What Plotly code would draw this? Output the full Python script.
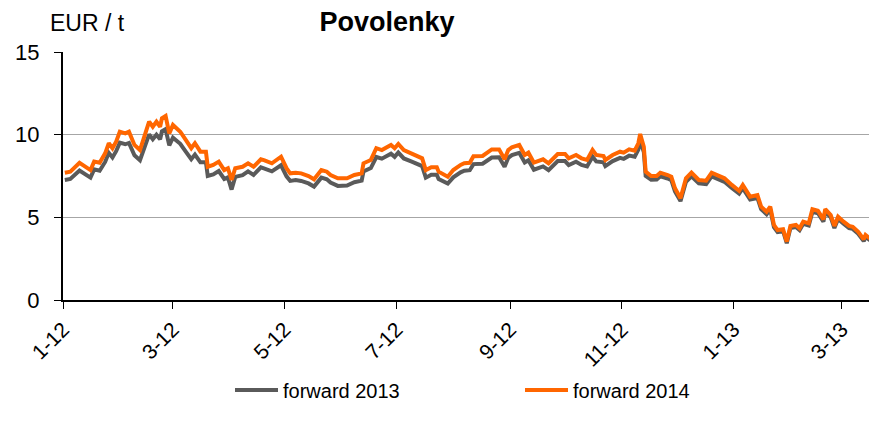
import plotly.graph_objects as go

# daily-ish readings of the EUA forward prices (EUR / t)
dates = [
    "2012-01-02", "2012-01-05", "2012-01-10", "2012-01-16", "2012-01-18", "2012-01-21",
    "2012-01-24", "2012-01-26", "2012-01-28", "2012-01-30", "2012-02-01", "2012-02-04",
    "2012-02-06", "2012-02-09", "2012-02-12", "2012-02-15", "2012-02-17", "2012-02-19",
    "2012-02-21", "2012-02-23", "2012-02-24", "2012-02-26", "2012-02-28", "2012-03-01",
    "2012-03-02", "2012-03-05", "2012-03-08", "2012-03-11", "2012-03-13", "2012-03-16",
    "2012-03-19", "2012-03-20", "2012-03-23", "2012-03-26", "2012-03-29", "2012-03-31",
    "2012-04-02", "2012-04-04", "2012-04-08", "2012-04-11", "2012-04-14", "2012-04-18",
    "2012-04-20", "2012-04-24", "2012-04-29", "2012-05-02", "2012-05-04", "2012-05-07",
    "2012-05-10", "2012-05-14", "2012-05-17", "2012-05-21", "2012-05-24", "2012-05-26",
    "2012-05-30", "2012-06-04", "2012-06-08", "2012-06-12", "2012-06-13", "2012-06-17",
    "2012-06-20", "2012-06-23", "2012-06-28", "2012-06-30", "2012-07-02", "2012-07-05",
    "2012-07-09", "2012-07-13", "2012-07-15", "2012-07-17", "2012-07-20", "2012-07-23",
    "2012-07-24", "2012-07-29", "2012-08-01", "2012-08-05", "2012-08-07", "2012-08-10",
    "2012-08-12", "2012-08-17", "2012-08-22", "2012-08-26", "2012-08-29", "2012-08-31",
    "2012-09-02", "2012-09-06", "2012-09-09", "2012-09-11", "2012-09-14", "2012-09-19",
    "2012-09-22", "2012-09-27", "2012-10-01", "2012-10-03", "2012-10-07", "2012-10-10",
    "2012-10-13", "2012-10-16", "2012-10-18", "2012-10-22", "2012-10-23", "2012-10-27",
    "2012-10-31", "2012-11-02", "2012-11-05", "2012-11-08", "2012-11-10", "2012-11-11",
    "2012-11-13", "2012-11-14", "2012-11-17", "2012-11-20", "2012-11-22", "2012-11-26",
    "2012-11-28", "2012-11-30", "2012-12-03", "2012-12-06", "2012-12-09", "2012-12-13",
    "2012-12-17", "2012-12-20", "2012-12-23", "2012-12-27", "2012-12-31", "2013-01-04",
    "2013-01-06", "2013-01-10", "2013-01-14", "2013-01-16", "2013-01-19", "2013-01-21",
    "2013-01-23", "2013-01-25", "2013-01-28", "2013-01-30", "2013-02-01", "2013-02-04",
    "2013-02-06", "2013-02-08", "2013-02-11", "2013-02-13", "2013-02-16", "2013-02-19",
    "2013-02-20", "2013-02-23", "2013-02-25", "2013-02-27", "2013-03-02", "2013-03-05",
    "2013-03-07", "2013-03-10", "2013-03-13", "2013-03-14", "2013-03-18", "2013-03-20",
]

forward_2013 = [
    7.26, 7.32, 7.83, 7.40, 7.90, 7.82, 8.35, 8.90, 8.62, 9.00, 9.52, 9.42,
    9.50, 8.75, 8.45, 9.48, 10.02, 9.72, 10.00, 9.72, 10.20, 10.33, 9.35, 9.82,
    9.72, 9.45, 8.98, 8.52, 8.80, 8.33, 8.33, 7.50, 7.60, 7.80, 7.32, 7.42,
    6.68, 7.45, 7.55, 7.78, 7.57, 8.02, 7.95, 7.78, 8.15, 7.48, 7.20, 7.25,
    7.20, 7.05, 6.86, 7.40, 7.30, 7.10, 6.90, 6.92, 7.12, 7.22, 7.78, 7.98,
    8.65, 8.55, 8.85, 8.66, 8.92, 8.56, 8.38, 8.18, 8.10, 7.40, 7.58, 7.58,
    7.32, 7.04, 7.42, 7.72, 7.82, 7.85, 8.22, 8.24, 8.62, 8.63, 8.06, 8.60,
    8.76, 8.90, 8.32, 8.45, 7.88, 8.08, 7.85, 8.40, 8.40, 8.16, 8.36, 8.17,
    8.08, 8.67, 8.38, 8.33, 8.10, 8.40, 8.60, 8.54, 8.73, 8.66, 9.10, 9.66,
    8.95, 7.50, 7.27, 7.28, 7.48, 7.35, 7.25, 6.57, 5.98, 7.15, 7.48, 7.05,
    7.01, 7.48, 7.35, 7.15, 6.77, 6.43, 6.77, 6.08, 6.17, 5.49, 5.19, 5.49,
    4.41, 4.11, 4.16, 3.43, 4.35, 4.41, 4.22, 4.61, 4.51, 5.33, 5.25, 4.74,
    5.33, 5.00, 4.35, 4.90, 4.61, 4.35, 4.30, 4.01, 3.56, 3.82, 3.49, 4.51,
]

forward_2014 = [
    7.70, 7.76, 8.30, 7.86, 8.37, 8.30, 8.87, 9.48, 9.18, 9.58, 10.18, 10.08,
    10.18, 9.38, 9.07, 10.18, 10.79, 10.48, 10.79, 10.48, 10.99, 11.13, 10.08, 10.59,
    10.48, 10.18, 9.68, 9.18, 9.48, 8.97, 8.97, 8.06, 8.17, 8.37, 7.86, 7.97,
    7.26, 7.97, 8.06, 8.27, 8.06, 8.51, 8.45, 8.27, 8.67, 7.97, 7.66, 7.70,
    7.66, 7.50, 7.30, 7.86, 7.76, 7.56, 7.36, 7.36, 7.56, 7.66, 8.27, 8.47,
    9.18, 9.07, 9.38, 9.18, 9.44, 9.07, 8.87, 8.67, 8.57, 7.86, 8.03, 8.03,
    7.76, 7.46, 7.86, 8.17, 8.27, 8.30, 8.70, 8.71, 9.11, 9.11, 8.51, 9.07,
    9.24, 9.38, 8.77, 8.91, 8.31, 8.51, 8.27, 8.83, 8.83, 8.57, 8.77, 8.57,
    8.47, 9.07, 8.77, 8.71, 8.47, 8.77, 8.97, 8.91, 9.11, 9.03, 9.48, 10.04,
    9.27, 7.76, 7.50, 7.50, 7.70, 7.56, 7.46, 6.76, 6.15, 7.36, 7.70, 7.26,
    7.22, 7.70, 7.56, 7.36, 6.96, 6.61, 6.96, 6.25, 6.35, 5.65, 5.34, 5.65,
    4.54, 4.23, 4.28, 3.53, 4.48, 4.54, 4.34, 4.74, 4.64, 5.49, 5.40, 4.88,
    5.49, 5.14, 4.48, 5.04, 4.74, 4.48, 4.43, 4.13, 3.67, 3.93, 3.59, 4.64,
]

FONT = "Liberation Sans, Arial, sans-serif"

# the page body keeps its 8px margin, so the figure is 8px smaller than the window
W, H = 869, 418

fig = go.Figure()
fig.add_trace(go.Scatter(x=dates, y=forward_2013, mode="lines", name="forward 2013",
                         line=dict(color="#5a5a5a", width=4)))
fig.add_trace(go.Scatter(x=dates, y=forward_2014, mode="lines", name="forward 2014",
                         line=dict(color="#ff6600", width=4)))

fig.update_layout(
    width=W, height=H,
    margin=dict(l=55, r=0, t=44, b=126, autoexpand=False),
    plot_bgcolor="white", paper_bgcolor="white",
    font=dict(family=FONT, size=18, color="black"),
    title=dict(text="<b>Povolenky</b>", font=dict(size=27, family=FONT, color="black"),
               xref="container", x=379 / W, xanchor="center",
               yref="container", y=1 - 14 / H, yanchor="middle"),
    showlegend=True,
    legend=dict(orientation="h", xref="container", yref="container",
                x=222 / W, xanchor="left", y=1 - 382 / H, yanchor="middle",
                entrywidth=232, itemwidth=43,
                font=dict(size=20, family=FONT), traceorder="normal"),
)

fig.update_xaxes(
    type="date", range=["2012-01-01", "2013-03-20 06:00"], automargin=False,
    tick0="2012-01-01", dtick="M2", tickformat="%-m-%y", tickangle=-45,
    ticks="outside", ticklen=7, tickcolor="black",
    showline=True, linecolor="black", linewidth=2,
    showgrid=False, zeroline=False,
    tickfont=dict(size=21),
)
fig.update_yaxes(
    range=[0, 15], tickvals=[0, 5, 10, 15], automargin=False,
    ticks="outside", ticklen=7, tickcolor="black", ticklabelstandoff=10,
    showline=True, linecolor="black", linewidth=2,
    showgrid=True, gridcolor="#a6a6a6", gridwidth=1, zeroline=False,
    tickfont=dict(size=22),
)

fig.add_annotation(text="EUR / t", xref="paper", yref="paper",
                   x=-0.018, xanchor="left", y=(292 - 15) / 248, yanchor="middle",
                   showarrow=False, font=dict(size=23, family=FONT))

fig.write_html("out.html")
